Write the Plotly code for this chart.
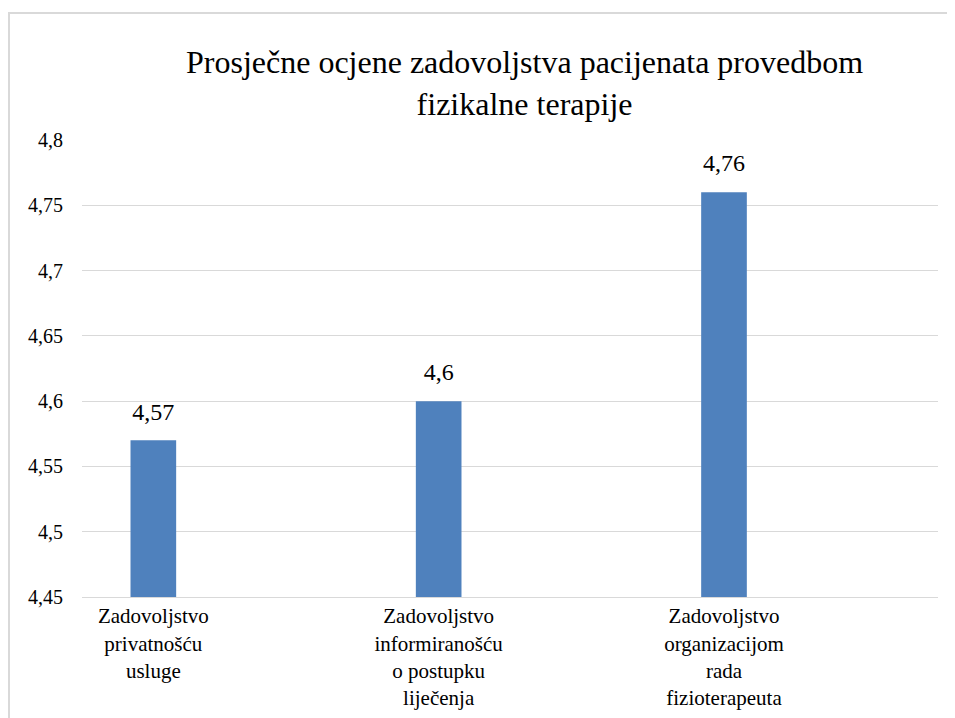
import plotly.graph_objects as go

categories = ["Zadovoljstvo<br>privatnošću<br>usluge",
              "Zadovoljstvo<br>informiranošću<br>o postupku<br>liječenja",
              "Zadovoljstvo<br>organizacijom<br>rada<br>fizioterapeuta"]
positions = [0, 2, 4]
values = [4.57, 4.6, 4.76]
value_labels = ["4,57", "4,6", "4,76"]
tick_vals = [4.45, 4.5, 4.55, 4.6, 4.65, 4.7, 4.75, 4.8]
tick_text = ["4,45", "4,5", "4,55", "4,6", "4,65", "4,7", "4,75", "4,8"]
title_text = "Prosječne ocjene zadovoljstva pacijenata provedbom<br>fizikalne terapije"

FONT = "Liberation Serif"

fig = go.Figure()
fig.add_trace(go.Bar(
    x=positions, y=values,
    marker=dict(color="#4F81BD", line=dict(width=0)),
    width=0.32,
    hoverinfo="skip",
))
fig.add_trace(go.Scatter(
    x=positions, y=values, mode="markers+text",
    marker=dict(size=22, opacity=0),
    text=value_labels, textposition="top center",
    textfont=dict(family=FONT, size=24, color="black"),
    cliponaxis=False, hoverinfo="skip",
))

OFF = 8  # page body margin
W, H = 955, 718
ml, mr, mt, mb = 82 - OFF, W - (938 - OFF), 140 - OFF, H - (597 - OFF)
pw, ph = W - ml - mr, H - mt - mb

fig.add_annotation(text=title_text, xref="paper", yref="paper",
                   x=(524 - OFF - ml) / pw, y=1 + (mt - (42 - OFF)) / ph,
                   xanchor="center", yanchor="top", showarrow=False, align="center",
                   font=dict(family=FONT, size=32, color="black"))

fig.update_layout(
    width=W, height=H,
    margin=dict(l=ml, r=mr, t=mt, b=mb),
    paper_bgcolor="white", plot_bgcolor="white",
    showlegend=False,
    yaxis=dict(range=[4.45, 4.8], tickvals=tick_vals, ticktext=tick_text,
               showgrid=True, gridcolor="#d9d9d9", gridwidth=1, zeroline=False, showline=False,
               tickfont=dict(family=FONT, size=20, color="black"), ticks="",
               ticklabelstandoff=18),
    xaxis=dict(range=[-0.5, 5.5], tickvals=positions, ticktext=categories,
               showline=True, linecolor="#d9d9d9", linewidth=1, ticks="", showgrid=False, zeroline=False,
               tickfont=dict(family=FONT, size=21, color="black"), tickangle=0),
    shapes=[dict(type="rect", xref="paper", yref="paper",
                 x0=(9 - OFF - ml) / pw, x1=1.2, y0=-0.5, y1=1 + (mt - (13 - OFF)) / ph,
                 line=dict(color="#d9d9d9", width=2), fillcolor="rgba(0,0,0,0)", layer="below")],
)

fig.write_html("out.html")
